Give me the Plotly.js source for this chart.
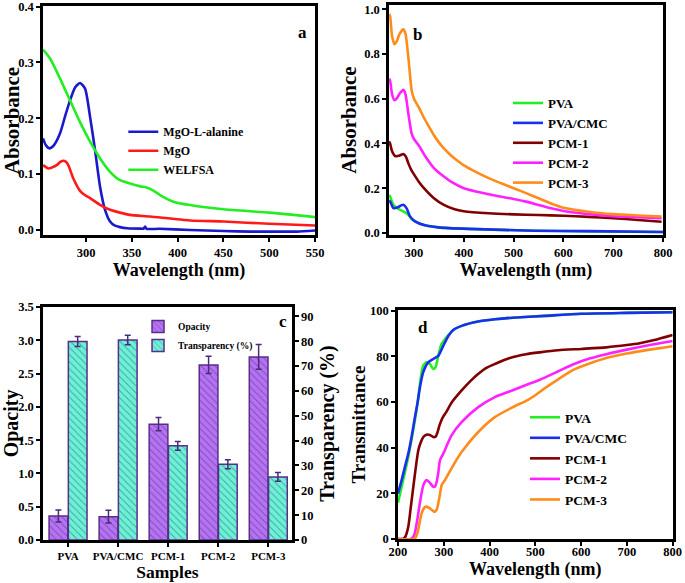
<!DOCTYPE html>
<html><head><meta charset="utf-8">
<script src="https://cdn.plot.ly/plotly-3.0.1.min.js"></script>
<style>html,body{margin:0;padding:0;background:#fff}#chart{width:685px;height:583px}</style>
</head><body><div id="chart"></div><script>
// ---- Panel a: absorbance ----
const aAlaWl = [253,256,260,265,271.6,277,282.5,288,293.4,298.9,304.4,309.8,315.3,320.7,326.2,331,337,345,359,363,364.4,366,380,413.5,450,480,500,530,550];
const aAlaAbs = [0.164,0.152,0.146,0.152,0.173,0.203,0.232,0.255,0.263,0.253,0.202,0.143,0.077,0.036,0.015,0.008,0.005,0.003,0.0024,0.0025,0.006,0.002,0.002,0.0,-0.002,-0.003,-0.003,-0.003,-0.001];
const aMgoWl = [253,258.8,263,267.9,272,275.2,278,280.6,286.1,293.4,299,304.4,315.3,326.2,337,348,369.9,413.5,450,500,550];
const aMgoAbs = [0.116,0.110,0.112,0.116,0.122,0.124,0.122,0.116,0.092,0.070,0.062,0.057,0.045,0.036,0.031,0.027,0.024,0.017,0.015,0.011,0.008];
const aWelWl = [253,260.7,271.6,282.5,293.4,304.4,315.3,326.2,337,348,359,366,373,380.8,395.4,413.5,450,500,550];
const aWelAbs = [0.323,0.307,0.271,0.232,0.193,0.158,0.128,0.104,0.089,0.083,0.078,0.076,0.071,0.0625,0.0506,0.0446,0.037,0.031,0.023];

// ---- Panel b: absorbance of films ----
const bPvaWl = [250,252,258.7,268.7,278.7,288.7,295.3,302,322,348.7,409,542,650,800];
const bPvaAbs = [0.17,0.163,0.126,0.107,0.096,0.081,0.062,0.052,0.034,0.025,0.018,0.010,0.007,0.004];
const bCmcWl = [250,252,258.7,268.7,274,278.7,285,292,302,322,348.7,409,542,650,800];
const bCmcAbs = [0.145,0.141,0.111,0.116,0.123,0.126,0.111,0.074,0.052,0.034,0.025,0.018,0.010,0.008,0.004];
const bPcm1Wl = [250,252,256,262,270,278.7,284,288.7,295,300,310,320,340,360,380,400,450,500,550,600,650,700,750,797];
const bPcm1Abs = [0.41,0.40,0.365,0.344,0.345,0.353,0.34,0.311,0.28,0.262,0.228,0.2,0.155,0.125,0.107,0.097,0.088,0.083,0.08,0.077,0.072,0.066,0.058,0.05];
const bPcm2Wl = [250,252,256,260.7,266,271,278.7,283,288.7,295.3,300,310,322,340,360,375,400,425,450,475,500,525,550,575,600,650,700,750,797];
const bPcm2Abs = [0.69,0.681,0.62,0.593,0.603,0.622,0.64,0.62,0.533,0.444,0.42,0.39,0.345,0.29,0.252,0.228,0.2,0.185,0.173,0.162,0.152,0.14,0.125,0.11,0.098,0.084,0.075,0.07,0.066];
const bPcm3Wl = [250,252,256,260.7,266,271,278.7,283,288.7,295.3,300,310,320,330,340,350,360,375,390,400,425,450,475,500,525,550,575,600,650,700,750,797];
const bPcm3Abs = [0.98,0.97,0.88,0.844,0.86,0.89,0.911,0.89,0.785,0.637,0.60,0.56,0.515,0.475,0.437,0.405,0.378,0.345,0.318,0.302,0.272,0.245,0.222,0.2,0.178,0.155,0.132,0.113,0.095,0.084,0.078,0.073];

// ---- Panel c: opacity / transparency ----
const samples = ['PVA','PVA/CMC','PCM-1','PCM-2','PCM-3'];
const opacity = [0.36,0.35,1.74,2.63,2.75];
const opacityErr = [0.09,0.095,0.1,0.13,0.185];
const transparency = [79.9,80.5,37.9,30.5,25.4];
const transparencyErr = [2.0,1.9,1.8,1.8,1.8];

// ---- Panel d: transmittance ----
const dPvaWl = [200,208,215,222.5,230,237,243,248,255,262.5,269.8,277,282,288,295,306,320.7,339,375,411.6,450,520.7,600,700,800];
const dPvaT = [15.9,22.9,29,36,44,52,60,68,76,77.4,76.7,74.5,75.3,80.3,85.4,88.4,91.6,93.4,95.3,96.3,97,97.8,98.7,99.1,99.4];
const dCmcWl = [200,208,215,222.5,230,237,243,248,255,266,277,288,299,310,320.7,339,375,411.6,450,520.7,600,700,800];
const dCmcT = [19.9,25.8,31.5,37.4,45,53.4,60,66.5,73,77.4,78.9,80.3,84.7,89,91.6,93.4,95.3,96.3,97,97.8,98.7,99.1,99.4];
const dPcm1Wl = [200,210,215.3,222.5,228,233.5,240,244.4,250,255.3,262,269.8,277,282,286,291,297,305,318,339,357,375,393,411.6,448,480,509.8,550,600,655,700,728,760,800];
const dPcm1T = [0,0,0.7,5.4,14,22.9,33,38.9,42.5,44.7,45.7,45.6,44.7,44.8,46.5,50,53,55.5,60,65.1,69,72.3,75,76.7,79.6,81,81.8,82.7,83.3,84,85,85.8,87.2,89.4];
const dPcm2Wl = [200,228,235,241,248,255.3,262.5,269.8,277,281,284.4,288,291.6,298.9,317,338.9,375.3,411.6,448,484,510,550,582,620,655,700,750,800];
const dPcm2T = [0,0,1.5,7,16,23.5,25.8,24.6,22.9,23,25,29,34.5,37.4,45.4,51.2,57.8,62.2,65,67.8,69.8,73.5,76.5,79.2,81,83,85,86.8];
const dPcm3Wl = [200,233,238,243,251.6,258,262.5,269.8,279.3,284.4,288,292,295.3,302.5,320.7,338.9,375.3,411.6,448,484,500,520,550,582,620,655,700,750,800];
const dPcm3T = [0,0,0.5,3,11.2,13.8,14.2,13.4,11.9,12.8,15.6,20,23.6,25.8,32.3,38.1,46.9,53.4,57.5,61,63,66,70,74,77,79.3,81.3,83,84.5];

const C = {green:'#22ee22', blue:'#1a1acc', blue2:'#1a2ef0', red:'#ff1a1a', dred:'#800000', mag:'#ff22ff', orange:'#ff8c1a'};
const FONT = 'Liberation Serif, Times New Roman, serif';

function line(x, y, name, color, xa, ya, leg) {
  return {type:'scatter', mode:'lines', x:x, y:y, name:name, xaxis:xa, yaxis:ya, legend:leg,
    line:{color:color, width:2.6, shape:'spline', smoothing:0.6}, hoverinfo:'skip'};
}

const traces = [
  line(aAlaWl, aAlaAbs, 'MgO-L-alanine', C.blue, 'x', 'y', 'legend'),
  line(aMgoWl, aMgoAbs, 'MgO', C.red, 'x', 'y', 'legend'),
  line(aWelWl, aWelAbs, 'WELFSA', C.green, 'x', 'y', 'legend'),
  line(bPvaWl, bPvaAbs, 'PVA', C.green, 'x2', 'y2', 'legend2'),
  line(bCmcWl, bCmcAbs, 'PVA/CMC', C.blue2, 'x2', 'y2', 'legend2'),
  line(bPcm1Wl, bPcm1Abs, 'PCM-1', C.dred, 'x2', 'y2', 'legend2'),
  line(bPcm2Wl, bPcm2Abs, 'PCM-2', C.mag, 'x2', 'y2', 'legend2'),
  line(bPcm3Wl, bPcm3Abs, 'PCM-3', C.orange, 'x2', 'y2', 'legend2'),
  {type:'bar', x:samples, y:opacity, name:'Opacity', xaxis:'x3', yaxis:'y3', legend:'legend3',
   offsetgroup:'o', alignmentgroup:'c', hoverinfo:'skip',
   marker:{color:'#b474f0', line:{color:'#5b2c8a', width:1.5},
     pattern:{shape:'\\', size:5, solidity:0.18, fgcolor:'#8447c4', bgcolor:'#b474f0'}},
   error_y:{type:'data', array:opacityErr, color:'#4b2a7a', thickness:1.5, width:3}},
  {type:'bar', x:samples, y:transparency, name:'Transparency (%)', xaxis:'x3', yaxis:'y5', legend:'legend3',
   offsetgroup:'t', alignmentgroup:'c', hoverinfo:'skip',
   marker:{color:'#6ff0d6', line:{color:'#5b2c8a', width:1.5},
     pattern:{shape:'\\', size:5, solidity:0.18, fgcolor:'#3aa99c', bgcolor:'#6ff0d6'}},
   error_y:{type:'data', array:transparencyErr, color:'#4b2a7a', thickness:1.5, width:3}},
  line(dPvaWl, dPvaT, 'PVA', C.green, 'x4', 'y4', 'legend4'),
  line(dCmcWl, dCmcT, 'PVA/CMC', C.blue2, 'x4', 'y4', 'legend4'),
  line(dPcm1Wl, dPcm1T, 'PCM-1', C.dred, 'x4', 'y4', 'legend4'),
  line(dPcm2Wl, dPcm2T, 'PCM-2', C.mag, 'x4', 'y4', 'legend4'),
  line(dPcm3Wl, dPcm3T, 'PCM-3', C.orange, 'x4', 'y4', 'legend4')
];

function ax(extra) {
  return Object.assign({showline:true, linewidth:2.5, linecolor:'black', mirror:true,
    ticks:'outside', ticklen:4, tickwidth:1.5, tickcolor:'black', showgrid:false, zeroline:false,
    ticklabeloverflow:'allow',
    tickfont:{size:12.5, family:FONT, weight:'bold', color:'black'}}, extra);
}
function xt(t, s, so) { return {text:t, font:{size:s||18, family:FONT, weight:'bold', color:'black'}, standoff:(so===undefined?4:so)}; }
function yt(t, s, so) { return {text:t, font:{size:s||21, family:FONT, weight:'bold', color:'black'}, standoff:(so===undefined?2:so)}; }
function leg(x, y, s) {
  return {x:x, y:y, xanchor:'left', yanchor:'top', bgcolor:'rgba(0,0,0,0)', borderwidth:0,
    itemwidth:30, tracegroupgap:0, font:{size:s, family:FONT, weight:'bold', color:'black'}};
}

const layout = {
  width:685, height:583, margin:{l:0, r:0, t:0, b:0},
  paper_bgcolor:'white', plot_bgcolor:'white',
  font:{family:FONT, weight:'bold', color:'black', size:12},
  showlegend:true, barmode:'group', bargap:0.23, bargroupgap:0.03,
  xaxis: ax({domain:[0.0628,0.460], anchor:'y', range:[253,550], tickvals:[300,350,400,450,500,550], title:xt('Wavelength (nm)')}),
  yaxis: ax({domain:[0.597,0.9897], anchor:'x', range:[-0.009,0.401], tickvals:[0,0.1,0.2,0.3,0.4], tickformat:'.1f', title:yt('Absorbance')}),
  xaxis2: ax({domain:[0.568,0.968], anchor:'y2', range:[250,800], tickvals:[300,400,500,600,700,800], title:xt('Wavelength (nm)')}),
  yaxis2: ax({domain:[0.597,0.991], anchor:'x2', range:[-0.009,1.018], tickvals:[0,0.2,0.4,0.6,0.8,1.0], tickformat:'.1f', title:yt('Absorbance')}),
  xaxis3: ax({domain:[0.0628,0.426], anchor:'y3', type:'category', range:[-0.5,4.47], tickangle:0,
    tickfont:{size:11, family:FONT, weight:'bold', color:'black'}, title:xt('Samples', 17.5, 3)}),
  yaxis3: ax({domain:[0.0738,0.4734], anchor:'x3', range:[0,3.5], dtick:0.5, tickformat:'.1f', title:yt('Opacity', 20)}),
  yaxis5: ax({overlaying:'y3', anchor:'x3', side:'right', range:[0,93.8], tickvals:[0,10,20,30,40,50,60,70,80,90], mirror:false, title:yt('Transparency (%)', 20, 8)}),
  xaxis4: ax({domain:[0.581,0.982], anchor:'y4', range:[200,800], dtick:100, ticklabelstandoff:-5, title:xt('Wavelength (nm)', 18, 3)}),
  yaxis4: ax({domain:[0.0755,0.468], anchor:'x4', range:[0,100.3], tickvals:[0,20,40,60,80,100], title:yt('Transmittance', 19, 0)}),
  legend: leg(0.18, 0.799, 12),
  legend2: leg(0.7416, 0.849, 13),
  legend3: leg(0.2015, 0.465, 9.5),
  legend4: leg(0.7664, 0.3105, 13.5),
  annotations: [
    {text:'a', x:0.441, y:0.964, xref:'paper', yref:'paper', showarrow:false, font:{size:17, family:FONT, weight:'bold'}},
    {text:'b', x:0.609, y:0.9605, xref:'paper', yref:'paper', showarrow:false, font:{size:17, family:FONT, weight:'bold'}},
    {text:'c', x:0.413, y:0.448, xref:'paper', yref:'paper', showarrow:false, font:{size:17, family:FONT, weight:'bold'}},
    {text:'d', x:0.6175, y:0.439, xref:'paper', yref:'paper', showarrow:false, font:{size:17, family:FONT, weight:'bold'}}
  ]
};

Plotly.newPlot('chart', traces, layout, {displayModeBar:false, responsive:false});
</script></body></html>
